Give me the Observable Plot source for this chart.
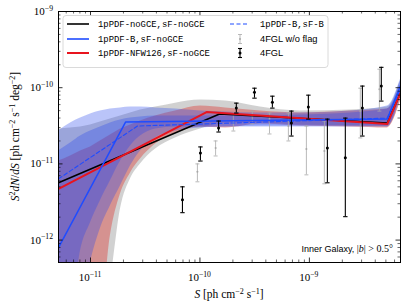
<!DOCTYPE html>
<html><head><meta charset="utf-8">
<script src="https://cdn.jsdelivr.net/npm/d3@7"></script>
<script src="https://cdn.jsdelivr.net/npm/@observablehq/plot@0.6"></script>
<style>html,body{margin:0;padding:0;background:#fff;}</style>
</head><body><div id="chart"></div>
<script>
// ---- axes ----
const xDomain = [5.1e-12, 6.8e-9];
const yDomain = [5.08e-13, 1e-9];
const xTickVals = [1e-11, 1e-10, 1e-9];
const xTickExp = ["11", "10", "9"];
const yTickVals = [1e-12, 1e-11, 1e-10, 1e-9];
const yTickExp = ["12", "11", "10", "9"];

// ---- bands (S grid, lower / upper edges) ----
const OFF = 1e-13;
const bandS  = [5.10e-12, 6.57e-12, 8.11e-12, 1.0e-11, 1.23e-11, 1.52e-11, 1.88e-11, 2.32e-11, 2.86e-11, 3.93e-11, 5.97e-11, 1.01e-10, 1.71e-10, 3.57e-10, 8.28e-10, 2.37e-9, 5.15e-9, 6.78e-9];
const greyLo = [OFF, OFF, OFF, OFF, OFF, 3e-13, 2.58e-12, 6.37e-12, 1.0e-11, 1.57e-11, 2.19e-11, 2.87e-11, 3.44e-11, 3.44e-11, 3.24e-11, 3.14e-11, 3.05e-11, 6.67e-11];
const greyHi = [2.87e-11, 2.96e-11, 3.05e-11, 3.24e-11, 3.54e-11, 3.87e-11, 4.24e-11, 4.65e-11, 5.08e-11, 5.56e-11, 6.27e-11, 6.88e-11, 6.67e-11, 5.56e-11, 4.93e-11, 5.08e-11, 5.56e-11, 1.22e-10];
const redLo  = [OFF, OFF, OFF, OFF, OFF, 1.15e-12, 4.06e-12, 7.62e-12, 1.16e-11, 1.82e-11, 2.54e-11, 3.05e-11, 2.96e-11, 3.34e-11, 3.14e-11, 3.05e-11, 2.96e-11, 6.67e-11];
const redHi  = [1.09e-11, 1.27e-11, 1.48e-11, 1.67e-11, 2.0e-11, 2.39e-11, 2.87e-11, 3.24e-11, 3.65e-11, 4.24e-11, 4.93e-11, 5.73e-11, 5.40e-11, 4.93e-11, 4.65e-11, 4.93e-11, 5.24e-11, 1.05e-10];
const dashLo = [OFF, OFF, OFF, 5.08e-13, 1.41e-12, 2.82e-12, 5.16e-12, 9.42e-12, 1.48e-11, 2.19e-11, 2.70e-11, 2.96e-11, 3.05e-11, 3.14e-11, 3.14e-11, 3.14e-11, 3.14e-11, 7.74e-11];
const dashHi = [2.70e-11, 3.44e-11, 3.99e-11, 4.51e-11, 4.93e-11, 5.24e-11, 5.40e-11, 5.56e-11, 5.56e-11, 5.40e-11, 5.24e-11, 4.93e-11, 4.79e-11, 4.65e-11, 4.65e-11, 4.93e-11, 5.73e-11, 1.29e-10];
const blueLo = [OFF, OFF, 7.30e-13, 1.69e-12, 3.28e-12, 6.0e-12, 1.09e-11, 1.72e-11, 2.32e-11, 2.87e-11, 3.05e-11, 3.05e-11, 3.05e-11, 3.05e-11, 3.05e-11, 3.05e-11, 3.05e-11, 7.74e-11];
const blueHi = [1.48e-11, 1.88e-11, 2.32e-11, 2.70e-11, 3.05e-11, 3.44e-11, 3.76e-11, 3.99e-11, 4.11e-11, 4.24e-11, 4.24e-11, 4.24e-11, 4.24e-11, 4.24e-11, 4.38e-11, 4.65e-11, 5.24e-11, 1.22e-10];

// ---- best-fit lines ----
const blackS = [5.10e-12, 1.51e-10, 5.15e-9, 6.78e-9];
const blackV = [5.65e-12, 4.51e-11, 3.44e-11, 8.47e-11];
const redS   = [5.10e-12, 1.15e-10, 5.15e-9, 6.78e-9];
const redV   = [4.71e-12, 4.79e-11, 3.34e-11, 8.47e-11];
const blueS  = [5.10e-12, 2.09e-11, 5.15e-9, 6.78e-9];
const blueV  = [7.98e-13, 3.54e-11, 3.87e-11, 1.05e-10];
const dashS  = [5.10e-12, 2.69e-11, 5.15e-9, 6.78e-9];
const dashV  = [6.37e-12, 3.14e-11, 3.99e-11, 9.55e-11];

// ---- 4FGL data points ----
const fglS  = [6.92e-11, 1.01e-10, 1.48e-10, 2.15e-10, 3.15e-10, 4.59e-10, 6.85e-10, 9.79e-10, 1.46e-9, 2.13e-9, 3.05e-9, 4.54e-9];
const fglV  = [3.38e-12, 1.39e-11, 2.96e-11, 5.40e-11, 8.73e-11, 6.46e-11, 3.44e-11, 5.56e-11, 1.62e-11, 1.20e-11, 5.40e-11, 1.05e-10];
const fglLo = [2.29e-12, 1.09e-11, 2.62e-11, 4.65e-11, 7.29e-11, 5.40e-11, 2.32e-11, 3.87e-11, 5.65e-12, 2.03e-12, 2.32e-11, 6.67e-11];
const fglHi = [5.00e-12, 1.67e-11, 3.65e-11, 6.27e-11, 9.85e-11, 7.74e-11, 4.93e-11, 7.98e-11, 3.87e-11, 3.99e-11, 1.05e-10, 1.85e-10];
const nfS  = [9.48e-11, 1.39e-10, 2.02e-10, 3.01e-10, 4.32e-10, 6.43e-10, 9.39e-10, 1.37e-9, 2.92e-9, 4.36e-9];
const nfV  = [7.86e-12, 1.62e-11, 3.44e-11, 4.24e-11, 3.87e-11, 3.14e-11, 1.57e-11, 1.48e-11, 4.93e-11, 9.55e-11];
const nfLo = [5.82e-12, 1.27e-11, 2.70e-11, 3.34e-11, 2.47e-11, 2.00e-11, 7.18e-12, 5.48e-12, 2.19e-11, 4.93e-11];
const nfHi = [1.00e-11, 2.00e-11, 4.65e-11, 4.93e-11, 4.65e-11, 4.65e-11, 3.14e-11, 3.65e-11, 9.85e-11, 1.75e-10];

// ---- legend ----
const legendLeft = [
  {label: "1pPDF-noGCE,sF-noGCE", color: "#000000", width: 1.6},
  {label: "1pPDF-B,sF-noGCE", color: "#1f4cff", width: 1.6},
  {label: "1pPDF-NFW126,sF-noGCE", color: "#e8141e", width: 2}
];
const legendRight = ["1pPDF-B,sF-B", "4FGL w/o flag", "4FGL"];
const noteText = "Inner Galaxy, ";

const W = 407, H = 305, mL = 58, mR = 7, mT = 11, mB = 43;
const fw = W - mL - mR, fh = H - mT - mB;
const SERIF = "'Liberation Serif','DejaVu Serif',serif";
const SANS = "'Liberation Sans','DejaVu Sans',sans-serif";
const MONO = "'Liberation Mono','DejaVu Sans Mono',monospace";

const band = (lo, hi) => bandS.map((s, i) => ({s, lo: lo[i], hi: hi[i]}));
const line = (S, V) => S.map((s, i) => ({s, v: V[i]}));
const pts = (S, V, L, U) => S.map((s, i) => ({s, v: V[i], lo: L[i], hi: U[i]}));
const isMajor = v => Math.abs(Math.log10(v) - Math.round(Math.log10(v))) < 1e-6;
const xt = d3.scaleLog().domain(xDomain).ticks();
const yt = d3.scaleLog().domain(yDomain).ticks();
const cap = w => ({draw(ctx) { ctx.moveTo(-w, 0); ctx.lineTo(w, 0); }});

const fgl = pts(fglS, fglV, fglLo, fglHi);
const nf = pts(nfS, nfV, nfLo, nfHi);
const BLUEF = "rgb(40,70,235)";

const chart = Plot.plot({
  width: W, height: H, marginLeft: mL, marginRight: mR, marginTop: mT, marginBottom: mB,
  x: {type: "log", domain: xDomain, axis: null},
  y: {type: "log", domain: yDomain, axis: null},
  style: {background: "white", overflow: "visible"},
  marks: [
    Plot.areaY(band(greyLo, greyHi), {x: "s", y1: "lo", y2: "hi", fill: "#b2b2b2", fillOpacity: 0.6, curve: "monotone-x", clip: true}),
    Plot.areaY(band(redLo, redHi), {x: "s", y1: "lo", y2: "hi", fill: "#d9534f", fillOpacity: 0.5, curve: "monotone-x", clip: true}),
    Plot.areaY(band(dashLo, dashHi), {x: "s", y1: "lo", y2: "hi", fill: BLUEF, fillOpacity: 0.32, curve: "monotone-x", clip: true}),
    Plot.areaY(band(blueLo, blueHi), {x: "s", y1: "lo", y2: "hi", fill: BLUEF, fillOpacity: 0.32, curve: "monotone-x", clip: true}),
    // 4FGL w/o flag
    Plot.ruleX(nf, {x: "s", y1: "lo", y2: "hi", stroke: "#a8a8a8", strokeWidth: 0.8}),
    Plot.dot(nf, {x: "s", y: "lo", symbol: cap(2), stroke: "#a8a8a8", fill: "none", strokeWidth: 0.8}),
    Plot.dot(nf, {x: "s", y: "hi", symbol: cap(2), stroke: "#a8a8a8", fill: "none", strokeWidth: 0.8}),
    Plot.dot(nf, {x: "s", y: "v", r: 1, fill: "#a8a8a8", stroke: "none"}),
    // lines
    Plot.line(line(blackS, blackV), {x: "s", y: "v", stroke: "#000", strokeWidth: 1.6, clip: true}),
    Plot.line(line(redS, redV), {x: "s", y: "v", stroke: "#e8141e", strokeWidth: 2, clip: true}),
    Plot.line(line(blueS, blueV), {x: "s", y: "v", stroke: "#1f4cff", strokeWidth: 1.5, clip: true}),
    Plot.line(line(dashS, dashV), {x: "s", y: "v", stroke: "#1f4cff", strokeWidth: 1.1, strokeDasharray: "4,2.5", clip: true}),
    // 4FGL
    Plot.ruleX(fgl, {x: "s", y1: "lo", y2: "hi", stroke: "#000", strokeWidth: 1.1}),
    Plot.dot(fgl, {x: "s", y: "lo", symbol: cap(2.2), stroke: "#000", fill: "none", strokeWidth: 1.1}),
    Plot.dot(fgl, {x: "s", y: "hi", symbol: cap(2.2), stroke: "#000", fill: "none", strokeWidth: 1.1}),
    Plot.dot(fgl, {x: "s", y: "v", r: 1.5, fill: "#000", stroke: "none"}),
    // ticks (inward)
    Plot.tickX(xt.filter(isMajor), {x: d => d, insetTop: fh - 4.5, stroke: "#000", strokeWidth: 0.8}),
    Plot.tickX(xt.filter(d => !isMajor(d)), {x: d => d, insetTop: fh - 2.5, stroke: "#000", strokeWidth: 0.6}),
    Plot.tickX(xt.filter(isMajor), {x: d => d, insetBottom: fh - 4.5, stroke: "#000", strokeWidth: 0.8}),
    Plot.tickX(xt.filter(d => !isMajor(d)), {x: d => d, insetBottom: fh - 2.5, stroke: "#000", strokeWidth: 0.6}),
    Plot.tickY(yt.filter(isMajor), {y: d => d, insetRight: fw - 4.5, stroke: "#000", strokeWidth: 0.8}),
    Plot.tickY(yt.filter(d => !isMajor(d)), {y: d => d, insetRight: fw - 2.5, stroke: "#000", strokeWidth: 0.6}),
    Plot.tickY(yt.filter(isMajor), {y: d => d, insetLeft: fw - 4.5, stroke: "#000", strokeWidth: 0.8}),
    Plot.tickY(yt.filter(d => !isMajor(d)), {y: d => d, insetLeft: fw - 2.5, stroke: "#000", strokeWidth: 0.6}),
    Plot.frame({stroke: "#000", strokeWidth: 1})
  ]
});
document.getElementById("chart").appendChild(chart);

const svg = d3.select(chart);
const sx = chart.scale("x"), sy = chart.scale("y");

function rich(sel, parts, size) {
  let shift = 0;
  for (const [txt, st] of parts) {
    const t = sel.append("tspan").text(txt);
    if (st === "i") t.attr("font-style", "italic");
    if (st === "sup") {
      t.attr("font-size", size * 0.7).attr("dy", -size * 0.38);
      shift = size * 0.38;
    } else if (shift) {
      t.attr("dy", shift); shift = 0;
    }
  }
}

// tick labels
xTickVals.forEach((v, i) => {
  const t = svg.append("text").attr("x", sx.apply(v)).attr("y", 281)
    .attr("text-anchor", "middle").attr("font-family", SERIF).attr("font-size", 11).attr("fill", "#000");
  rich(t, [["10", "n"], ["\u2212" + xTickExp[i], "sup"]], 11);
});
yTickVals.forEach((v, i) => {
  const t = svg.append("text").attr("x", 53).attr("y", sy.apply(v) + 4)
    .attr("text-anchor", "end").attr("font-family", SERIF).attr("font-size", 11).attr("fill", "#000");
  rich(t, [["10", "n"], ["\u2212" + yTickExp[i], "sup"]], 11);
});

// axis labels
const xl = svg.append("text").attr("x", mL + fw / 2).attr("y", 298).attr("text-anchor", "middle")
  .attr("font-family", SERIF).attr("font-size", 11.5).attr("fill", "#000");
rich(xl, [["S", "i"], [" [ph cm", "n"], ["\u22122", "sup"], [" s", "n"], ["\u22121", "sup"], ["]", "n"]], 11.5);

const yl = svg.append("text").attr("transform", `translate(19,${mT + fh / 2}) rotate(-90)`).attr("text-anchor", "middle")
  .attr("font-family", SERIF).attr("font-size", 11.5).attr("fill", "#000");
rich(yl, [["S", "i"], ["2", "sup"], ["dN", "i"], ["/", "n"], ["dS", "i"], [" [ph cm", "n"], ["\u22122", "sup"], [" s", "n"], ["\u22121", "sup"], [" deg", "n"], ["\u22122", "sup"], ["]", "n"]], 11.5);

// annotation
const note = svg.append("text").attr("x", 393).attr("y", 252).attr("text-anchor", "end")
  .attr("font-family", SANS).attr("font-size", 9).attr("fill", "#000");
note.append("tspan").text(noteText);
note.append("tspan").attr("font-family", SERIF).attr("font-size", 10).text("|");
note.append("tspan").attr("font-family", SERIF).attr("font-size", 10).attr("font-style", "italic").text("b");
note.append("tspan").attr("font-family", SERIF).attr("font-size", 10).text("| > 0.5°");

// legend
const lg = svg.append("g").attr("text-anchor", "start");
lg.append("rect").attr("x", 63).attr("y", 15.5).attr("width", 265).attr("height", 52).attr("rx", 3)
  .attr("fill", "#fff").attr("fill-opacity", 0.85).attr("stroke", "#d0d0d0").attr("stroke-width", 0.8);
const rows = [24, 39, 53];
legendLeft.forEach((d, i) => {
  lg.append("line").attr("x1", 67).attr("x2", 89).attr("y1", rows[i]).attr("y2", rows[i])
    .attr("stroke", d.color).attr("stroke-width", d.width);
  lg.append("text").attr("x", 98).attr("y", rows[i] + 3).attr("text-anchor", "start").attr("font-family", MONO).attr("font-size", 8.9)
    .attr("fill", "#000").text(d.label);
});
lg.append("line").attr("x1", 230).attr("x2", 249).attr("y1", rows[0]).attr("y2", rows[0])
  .attr("stroke", "#1f4cff").attr("stroke-width", 1.1).attr("stroke-dasharray", "4,2.5");
[["#a8a8a8", 0.8, 1, 4.5], ["#000", 1.1, 1.5, 4.5]].forEach(([c, w, r, h], k) => {
  const y = rows[k + 1], x = 240;
  lg.append("line").attr("x1", x).attr("x2", x).attr("y1", y - h).attr("y2", y + h).attr("stroke", c).attr("stroke-width", w);
  lg.append("line").attr("x1", x - 2).attr("x2", x + 2).attr("y1", y - h).attr("y2", y - h).attr("stroke", c).attr("stroke-width", w);
  lg.append("line").attr("x1", x - 2).attr("x2", x + 2).attr("y1", y + h).attr("y2", y + h).attr("stroke", c).attr("stroke-width", w);
  lg.append("circle").attr("cx", x).attr("cy", y).attr("r", r).attr("fill", c);
});
legendRight.forEach((t, i) => {
  lg.append("text").attr("x", 260).attr("y", rows[i] + 3).attr("text-anchor", "start")
    .attr("font-family", i === 0 ? MONO : SANS).attr("font-size", i === 0 ? 8.9 : 9.3).attr("fill", "#000").text(t);
});
</script>
</body></html>
